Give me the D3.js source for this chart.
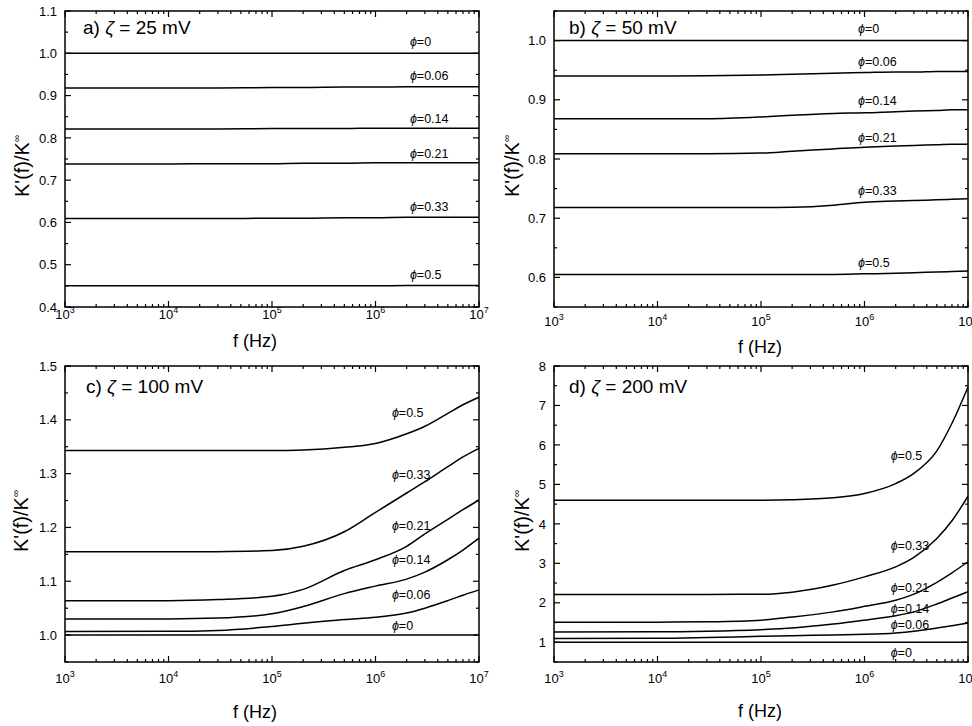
<!DOCTYPE html>
<html>
<head>
<meta charset="utf-8">
<script src="https://cdn.jsdelivr.net/npm/d3@7"></script>
<style>
  body { margin: 0; background: #fff; }
  svg { font-family: "Liberation Sans", Arial, sans-serif; }
</style>
</head>
<body>
<svg id="chart" width="972" height="726"></svg>
<script>
// frequencies (Hz) shared by all curves
const freqs = [1e3, 1e4, 3e4, 1e5, 2e5, 5e5, 1e6, 2e6, 3e6, 5e6, 7e6, 1e7];
const phiNames = ["0", "0.06", "0.14", "0.21", "0.33", "0.5"];
const zetaNames = ["25", "50", "100", "200"];

// K'(f)/K∞, one row per phi
const zeta25 = [
  [1, 1, 1, 1, 1, 1, 1, 1, 1, 1, 1, 1],
  [0.918, 0.918, 0.918, 0.919, 0.919, 0.920, 0.920, 0.921, 0.921, 0.921, 0.921, 0.921],
  [0.821, 0.821, 0.821, 0.822, 0.822, 0.822, 0.823, 0.823, 0.823, 0.823, 0.823, 0.823],
  [0.738, 0.738, 0.739, 0.739, 0.740, 0.740, 0.741, 0.741, 0.741, 0.741, 0.741, 0.741],
  [0.609, 0.609, 0.609, 0.610, 0.610, 0.611, 0.611, 0.612, 0.612, 0.612, 0.612, 0.612],
  [0.450, 0.450, 0.450, 0.450, 0.450, 0.450, 0.450, 0.451, 0.451, 0.451, 0.451, 0.451]
];
const zeta50 = [
  [1, 1, 1, 1, 1, 1, 1, 1, 1, 1, 1, 1],
  [0.940, 0.940, 0.9405, 0.942, 0.943, 0.945, 0.946, 0.947, 0.947, 0.948, 0.948, 0.948],
  [0.868, 0.868, 0.868, 0.871, 0.874, 0.877, 0.878, 0.880, 0.881, 0.882, 0.883, 0.883],
  [0.809, 0.809, 0.809, 0.810, 0.813, 0.817, 0.820, 0.822, 0.823, 0.824, 0.825, 0.825],
  [0.718, 0.718, 0.718, 0.718, 0.7185, 0.722, 0.727, 0.729, 0.730, 0.731, 0.732, 0.733],
  [0.605, 0.605, 0.605, 0.605, 0.605, 0.605, 0.606, 0.607, 0.608, 0.609, 0.610, 0.611]
];
const zeta100 = [
  [1, 1, 1, 1, 1, 1, 1, 1, 1, 1, 1, 1],
  [1.0068, 1.007, 1.0087, 1.016, 1.022, 1.029, 1.033, 1.041, 1.050, 1.064, 1.074, 1.084],
  [1.0297, 1.030, 1.0316, 1.0396, 1.053, 1.077, 1.091, 1.104, 1.117, 1.140, 1.158, 1.180],
  [1.064, 1.064, 1.066, 1.072, 1.085, 1.120, 1.140, 1.165, 1.188, 1.215, 1.233, 1.251],
  [1.1547, 1.1547, 1.155, 1.157, 1.165, 1.192, 1.228, 1.264, 1.285, 1.313, 1.331, 1.347],
  [1.343, 1.343, 1.343, 1.343, 1.344, 1.349, 1.356, 1.374, 1.388, 1.412, 1.428, 1.442]
];
const zeta200 = [
  [1, 1, 1, 1, 1, 1, 1, 1, 1, 1, 1, 1],
  [1.093, 1.10, 1.12, 1.15, 1.165, 1.185, 1.20, 1.237, 1.28, 1.36, 1.42, 1.49],
  [1.262, 1.265, 1.28, 1.32, 1.36, 1.46, 1.56, 1.67, 1.77, 1.97, 2.12, 2.28],
  [1.507, 1.51, 1.52, 1.56, 1.64, 1.77, 1.91, 2.065, 2.22, 2.52, 2.76, 3.04],
  [2.209, 2.21, 2.212, 2.217, 2.27, 2.45, 2.657, 2.91, 3.15, 3.63, 4.08, 4.70],
  [4.60, 4.60, 4.60, 4.60, 4.61, 4.66, 4.77, 5.02, 5.28, 5.85, 6.55, 7.47]
];

// phi label anchors [f, K'/K∞]
const labels25 = [[2.15e6, 1.028], [2.15e6, 0.947], [2.15e6, 0.846], [2.15e6, 0.762], [2.15e6, 0.638], [2.15e6, 0.478]];
const labels50 = [[8.66e5, 1.020], [8.66e5, 0.9655], [8.66e5, 0.899], [8.66e5, 0.837], [8.66e5, 0.746], [8.66e5, 0.626]];
const labels100 = [[1.44e6, 1.018], [1.44e6, 1.075], [1.44e6, 1.141], [1.44e6, 1.2035], [1.44e6, 1.2976], [1.44e6, 1.413]];
const labels200 = [[1.79e6, 0.738], [1.79e6, 1.448], [1.79e6, 1.854], [1.79e6, 2.40], [1.79e6, 3.46], [1.79e6, 5.74]];

const yTicks25 = [0.4, 0.5, 0.6, 0.7, 0.8, 0.9, 1.0, 1.1];
const yTicks50 = [0.6, 0.7, 0.8, 0.9, 1.0];
const yTicks100 = [1.0, 1.1, 1.2, 1.3, 1.4, 1.5];
const yTicks200 = [1, 2, 3, 4, 5, 6, 7, 8];
const xTicks = [1e3, 1e4, 1e5, 1e6, 1e7];

const svg = d3.select("#chart");

const panels = [
  { tag: "a)", zeta: zetaNames[0], data: zeta25, labels: labels25, yTicks: yTicks25, yDom: [0.4, 1.1], minor: 0.05, fmt: d3.format(".1f"),
    l: 65, r: 479, t: 11, b: 307, xLabY: 319, xTitleX: 255, xTitleY: 347, yTitleX: 29, titleX: 83, titleY: 34 },
  { tag: "b)", zeta: zetaNames[1], data: zeta50, labels: labels50, yTicks: yTicks50, yDom: [0.55, 1.05], minor: 0.05, fmt: d3.format(".1f"),
    l: 554, r: 968, t: 11, b: 307, xLabY: 326, xTitleX: 760, xTitleY: 353, yTitleX: 519, titleX: 569, titleY: 34 },
  { tag: "c)", zeta: zetaNames[2], data: zeta100, labels: labels100, yTicks: yTicks100, yDom: [0.95, 1.5], minor: 0.05, fmt: d3.format(".1f"),
    l: 65, r: 479, t: 366, b: 662, xLabY: 683, xTitleX: 255, xTitleY: 718, yTitleX: 28, titleX: 86, titleY: 393 },
  { tag: "d)", zeta: zetaNames[3], data: zeta200, labels: labels200, yTicks: yTicks200, yDom: [0.5, 8], minor: 0.5, fmt: d3.format("d"),
    l: 554, r: 968, t: 366, b: 662, xLabY: 683, xTitleX: 760, xTitleY: 717, yTitleX: 529, titleX: 569, titleY: 393 }
];

const majorLen = 6, minorLen = 3;

panels.forEach(p => {
  const x = d3.scaleLog().domain([1e3, 1e7]).range([p.l, p.r]);
  const y = d3.scaleLinear().domain(p.yDom).range([p.b, p.t]);
  const g = svg.append("g");

  // curves
  const line = d3.line()
    .x((d, i) => x(freqs[i]))
    .y(d => y(d))
    .curve(d3.curveMonotoneX);
  g.selectAll(".curve")
    .data(p.data)
    .enter().append("path")
    .attr("class", "curve")
    .attr("d", line)
    .attr("fill", "none")
    .attr("stroke", "#000")
    .attr("stroke-width", 1.5);

  // inward ticks on all four sides
  const ticks = g.append("g").attr("stroke", "#000").attr("stroke-width", 1.2);
  const xMinor = [];
  [1e3, 1e4, 1e5, 1e6].forEach(dec => { for (let m = 2; m <= 9; m++) xMinor.push(dec * m); });
  const xAll = xTicks.map(v => [v, majorLen]).concat(xMinor.map(v => [v, minorLen]));
  xAll.forEach(([v, len]) => {
    ticks.append("line").attr("x1", x(v)).attr("x2", x(v)).attr("y1", p.b).attr("y2", p.b - len);
    ticks.append("line").attr("x1", x(v)).attr("x2", x(v)).attr("y1", p.t).attr("y2", p.t + len);
  });
  const yAll = [];
  for (let v = p.yDom[0]; v <= p.yDom[1] + 1e-9; v += p.minor) {
    const vv = +v.toFixed(3);
    const isMajor = p.yTicks.some(t => Math.abs(t - vv) < 1e-6);
    yAll.push([vv, isMajor ? majorLen : minorLen]);
  }
  yAll.forEach(([v, len]) => {
    ticks.append("line").attr("x1", p.l).attr("x2", p.l + len).attr("y1", y(v)).attr("y2", y(v));
    ticks.append("line").attr("x1", p.r).attr("x2", p.r - len).attr("y1", y(v)).attr("y2", y(v));
  });

  // frame
  g.append("rect")
    .attr("x", p.l).attr("y", p.t)
    .attr("width", p.r - p.l).attr("height", p.b - p.t)
    .attr("fill", "none").attr("stroke", "#000").attr("stroke-width", 1.5);

  // y tick labels
  g.selectAll(".ylab")
    .data(p.yTicks)
    .enter().append("text")
    .attr("x", p.l - 8)
    .attr("y", d => y(d))
    .attr("dy", "0.36em")
    .attr("text-anchor", "end")
    .attr("font-size", 13)
    .text(d => p.fmt(d));

  // x tick labels 10^n
  const xl = g.selectAll(".xlab")
    .data(xTicks)
    .enter().append("text")
    .attr("x", d => x(d))
    .attr("y", p.xLabY)
    .attr("text-anchor", "middle")
    .attr("font-size", 13);
  xl.append("tspan").text("10");
  xl.append("tspan").attr("dy", -6).attr("font-size", 9).text(d => Math.round(Math.log10(d)));

  // axis titles
  g.append("text")
    .attr("x", p.xTitleX).attr("y", p.xTitleY)
    .attr("text-anchor", "middle")
    .attr("font-size", 18)
    .text("f (Hz)");
  const yt = g.append("text")
    .attr("transform", `translate(${p.yTitleX},${(p.t + p.b) / 2 + 7}) rotate(-90)`)
    .attr("text-anchor", "middle")
    .attr("font-size", 20);
  yt.append("tspan").text("K'(f)/K");
  yt.append("tspan").attr("dy", -9).attr("font-size", 10).text("∞");

  // panel title
  const tt = g.append("text")
    .attr("x", p.titleX).attr("y", p.titleY)
    .attr("font-size", 19);
  tt.append("tspan").text(p.tag + " ");
  tt.append("tspan").attr("font-style", "italic").text("ζ");
  tt.append("tspan").text(" = " + p.zeta + " mV");

  // phi labels
  const pl = g.selectAll(".phi")
    .data(p.labels)
    .enter().append("text")
    .attr("x", d => x(d[0]))
    .attr("y", d => y(d[1]))
    .attr("dy", "0.36em")
    .attr("font-size", 12.5);
  pl.append("tspan").attr("font-style", "italic").text("ϕ");
  pl.append("tspan").text((d, i) => "=" + phiNames[i]);
});
</script>
</body>
</html>
